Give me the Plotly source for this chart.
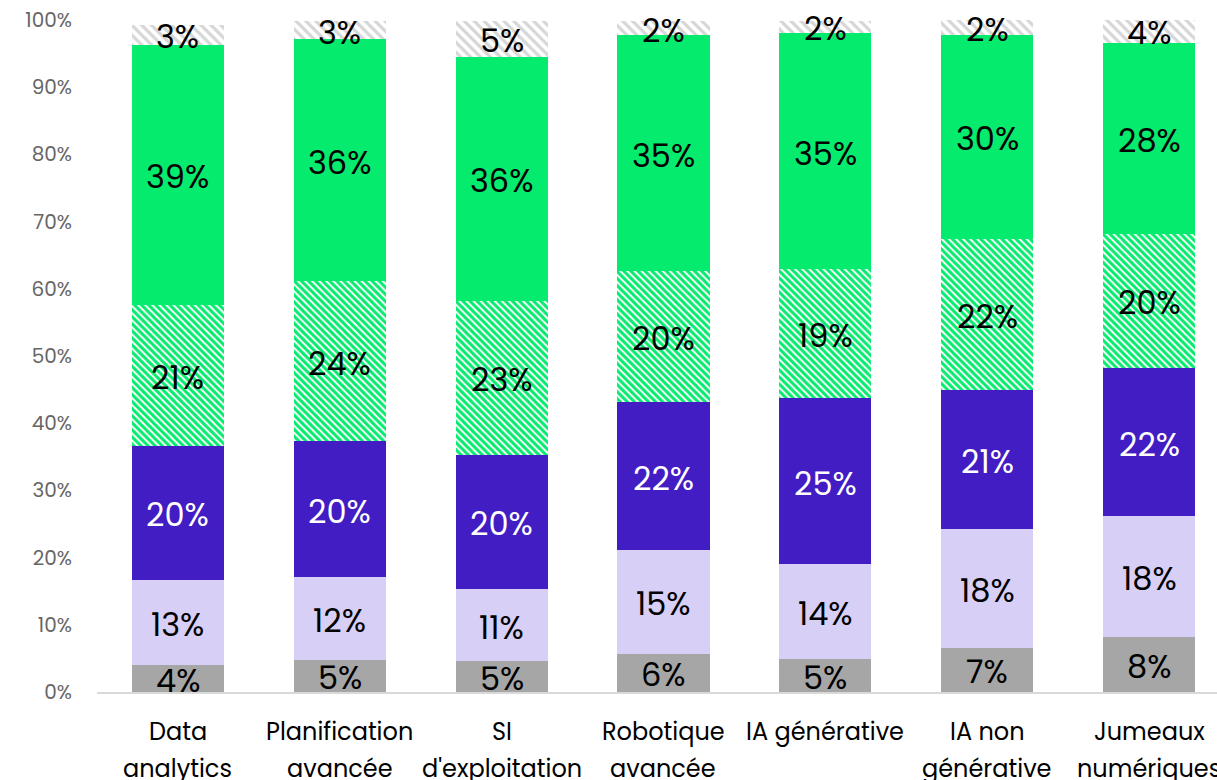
import plotly.graph_objects as go

categories = ["Data analytics", "Planification avancée", "SI d'exploitation",
              "Robotique avancée", "IA générative", "IA non générative",
              "Jumeaux numériques"]
label_line1 = ["Data", "Planification", "SI", "Robotique", "IA générative", "IA non", "Jumeaux"]
label_line2 = ["analytics", "avancée", "d'exploitation", "avancée", "", "générative", "numériques"]

s_gray = [4.0, 4.8, 4.6, 5.7, 4.9, 6.6, 8.2]
s_lavender = [12.7, 12.3, 10.7, 15.4, 14.1, 17.6, 18.0]
s_purple = [19.9, 20.2, 20.0, 22.0, 24.7, 20.8, 22.0]
s_green_hatch = [21.0, 23.8, 22.9, 19.6, 19.2, 22.4, 20.0]
s_green = [38.7, 36.0, 36.3, 35.0, 35.2, 30.4, 28.4]
s_gray_hatch = [3.0, 2.8, 5.4, 2.2, 1.8, 2.2, 3.6]

y_ticks = [0, 10, 20, 30, 40, 50, 60, 70, 80, 90, 100]

FONT = "Poppins, Open Sans, sans-serif"
GREEN = "#05EB6E"

series = [
    (s_gray, dict(color="#A6A6A6"), "#000000"),
    (s_lavender, dict(color="#D8CFF6"), "#000000"),
    (s_purple, dict(color="#421DC4"), "#FFFFFF"),
    (s_green_hatch, dict(color="#FFFFFF", pattern=dict(shape="\\", fgcolor=GREEN, bgcolor="#FFFFFF",
                                                      size=5, solidity=0.6, fillmode="replace",
                                                      fgopacity=1)), "#000000"),
    (s_green, dict(color=GREEN), "#000000"),
    (s_gray_hatch, dict(color="#FFFFFF", pattern=dict(shape="\\", fgcolor="#D6D6D6", bgcolor="#FFFFFF",
                                                     size=7, solidity=0.45, fillmode="replace",
                                                     fgopacity=1)), "#000000"),
]

fig = go.Figure()
base = [0.0] * len(categories)
for vals, marker, tcolor in series:
    fig.add_trace(go.Bar(
        x=categories, y=vals, marker=dict(line=dict(width=0), **marker),
        showlegend=False, hoverinfo="x+y",
    ))
    for i, c in enumerate(categories):
        fig.add_annotation(x=c, xref="x", y=base[i] + vals[i] / 2, yref="y",
                           text=f"{vals[i]:.0f}%", showarrow=False, yanchor="middle", yshift=-2,
                           font=dict(family=FONT, size=32, color=tcolor))
        base[i] += vals[i]

for i, c in enumerate(categories):
    fig.add_annotation(x=c, xref="x", y=0, yref="paper", text=label_line1[i], showarrow=False,
                       yanchor="middle", yshift=-39, font=dict(family=FONT, size=24, color="#000000"))
    if label_line2[i]:
        fig.add_annotation(x=c, xref="x", y=0, yref="paper", text=label_line2[i], showarrow=False,
                           yanchor="middle", yshift=-76, font=dict(family=FONT, size=24, color="#000000"))

fig.update_layout(
    barmode="stack", bargap=0.43,
    width=1217, height=780,
    margin=dict(l=97, r=0, t=20, b=88),
    paper_bgcolor="white", plot_bgcolor="white",
    font=dict(family=FONT),
    xaxis=dict(range=[-0.5, 6.42], showticklabels=False, showline=True, linecolor="#D9D9D9",
               linewidth=2, ticks="", showgrid=False, zeroline=False),
    yaxis=dict(range=[0, 100], tickvals=y_ticks, ticktext=[f"{v}%" for v in y_ticks],
               showgrid=False, zeroline=False, showline=False, ticks="",
               ticklabelstandoff=24, tickfont=dict(family=FONT, size=20, color="#666666")),
)

fig.write_html("out.html")
